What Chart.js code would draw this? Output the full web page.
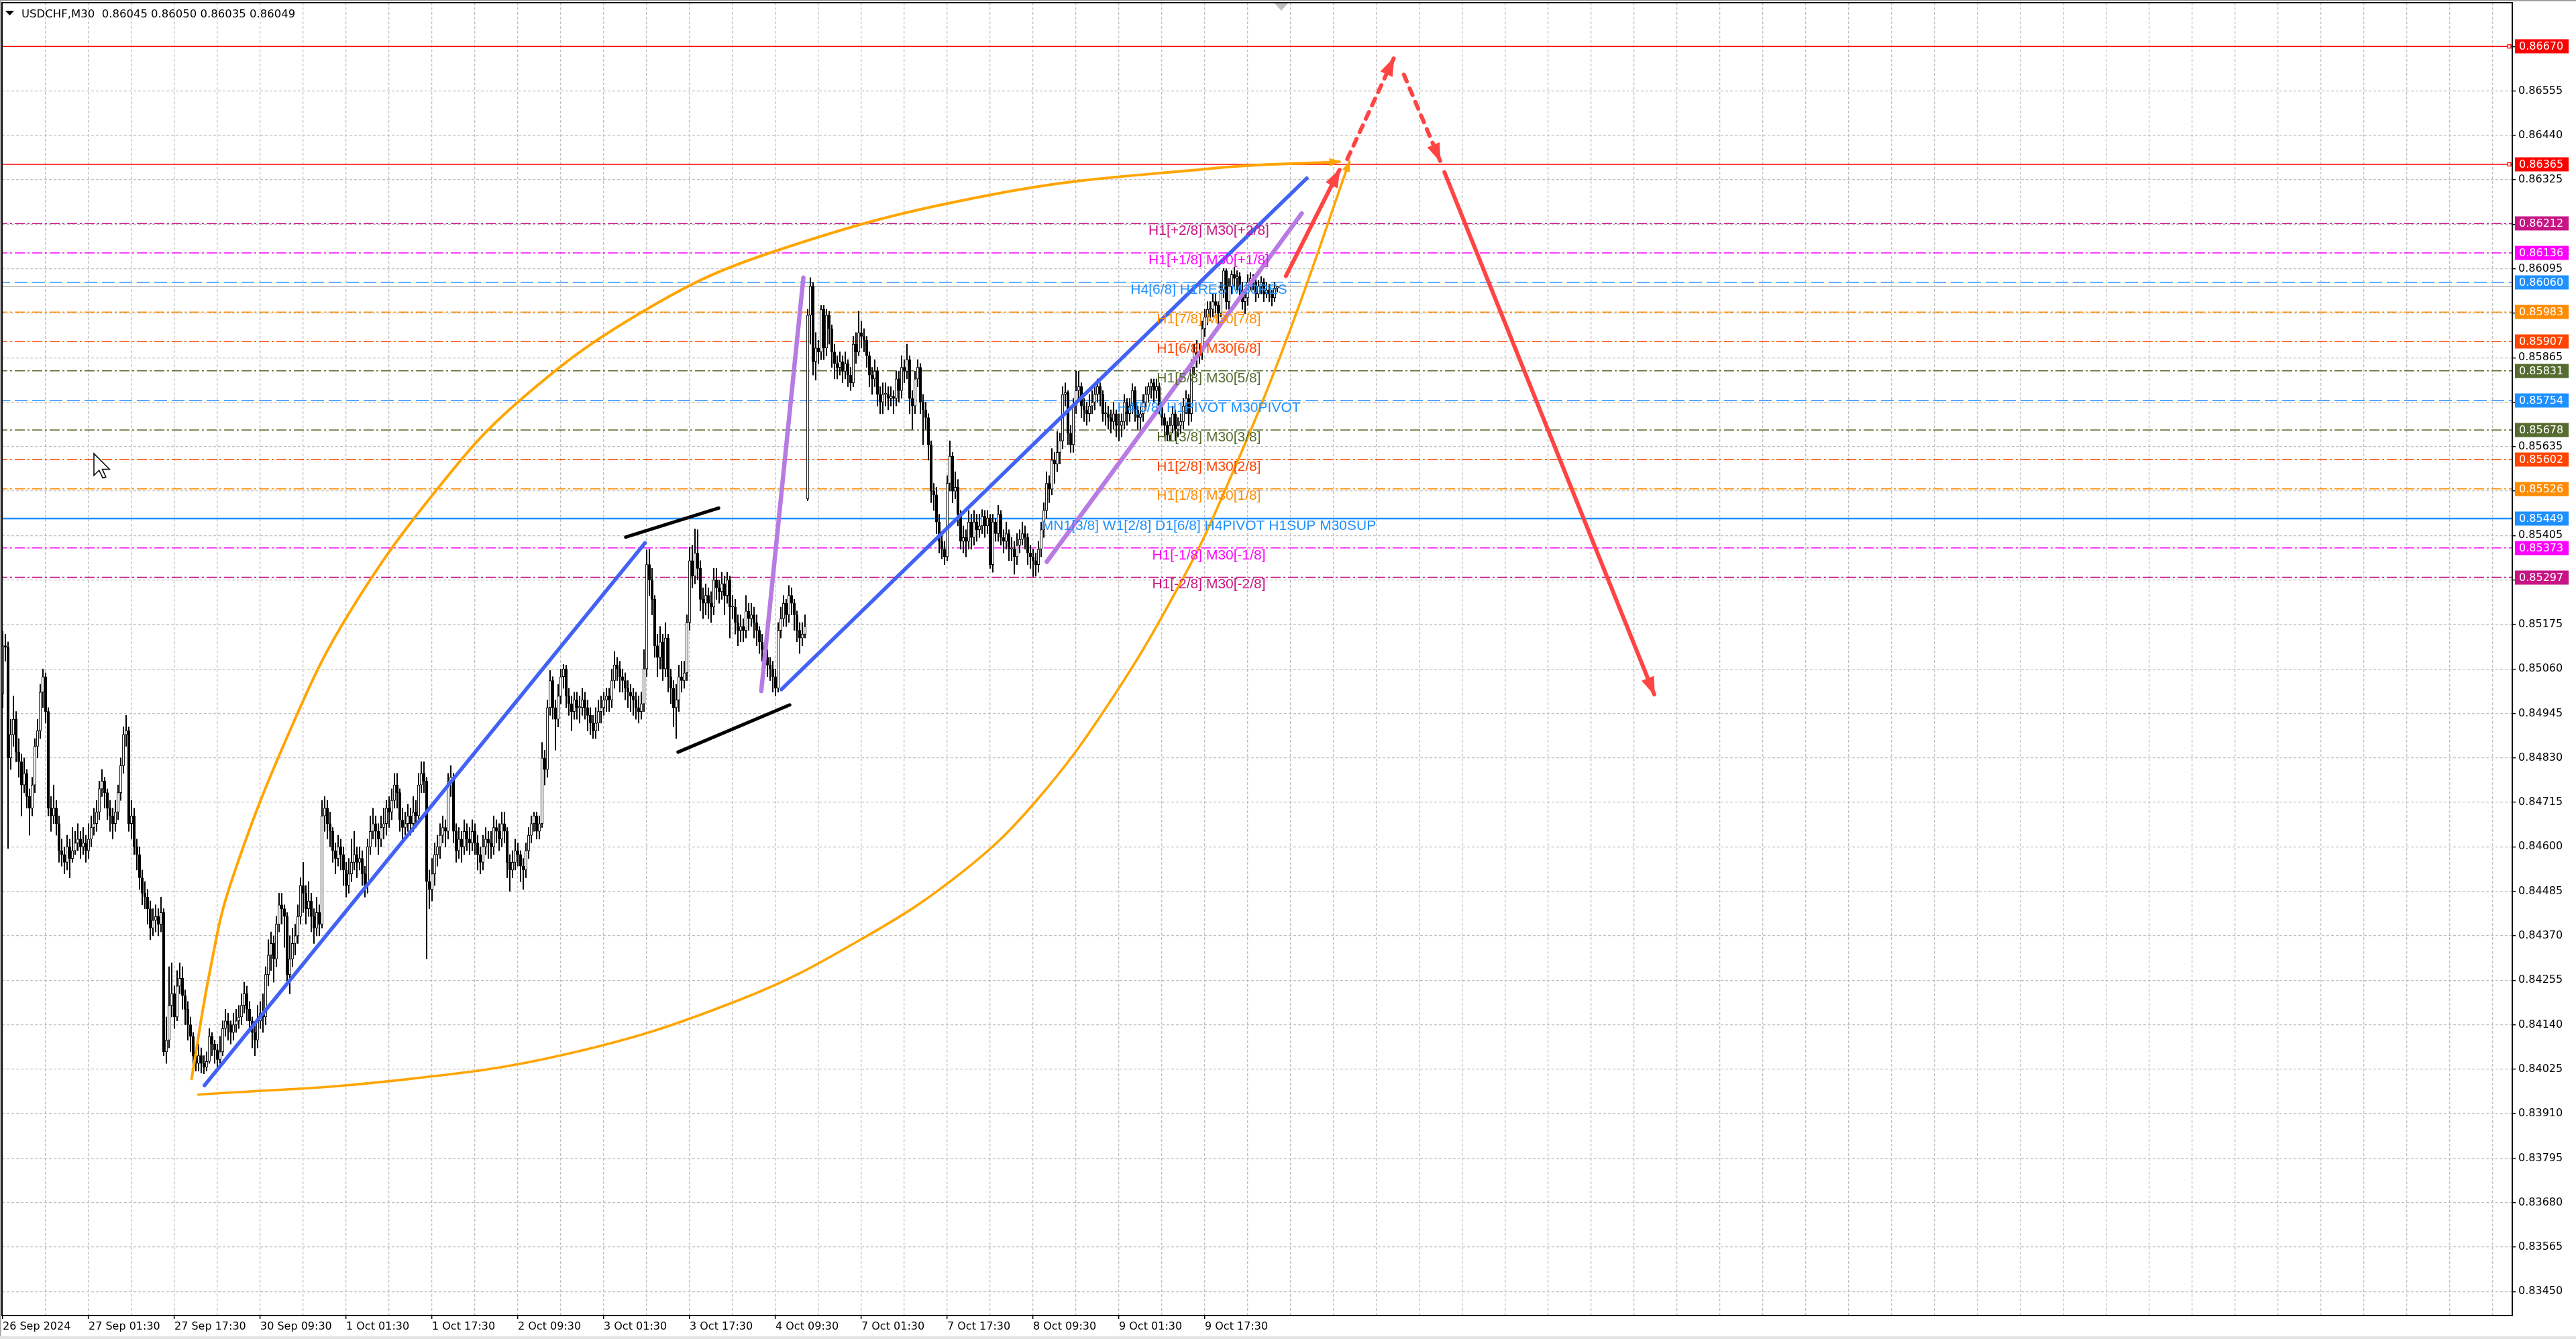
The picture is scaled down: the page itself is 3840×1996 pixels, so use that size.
<!DOCTYPE html>
<html>
<head>
<meta charset="utf-8">
<script src="https://cdn.jsdelivr.net/npm/chart.js@4.4.1/dist/chart.umd.min.js"></script>
<style>
html,body{margin:0;padding:0;background:#fff;width:3840px;height:1996px;overflow:hidden}
canvas{display:block}
</style>
</head>
<body>
<canvas id="c" width="3840" height="1996"></canvas>
<script>
// ---------------- DATA ----------------
const chartTitle = "USDCHF,M30  0.86045 0.86050 0.86035 0.86049";
const timeLabels = ["26 Sep 2024","27 Sep 01:30","27 Sep 17:30","30 Sep 09:30","1 Oct 01:30","1 Oct 17:30","2 Oct 09:30","3 Oct 01:30","3 Oct 17:30","4 Oct 09:30","7 Oct 01:30","7 Oct 17:30","8 Oct 09:30","9 Oct 01:30","9 Oct 17:30"];
const yTickValues = [0.83450,0.83565,0.83680,0.83795,0.83910,0.84025,0.84140,0.84255,0.84370,0.84485,0.84600,0.84715,0.84830,0.84945,0.85060,0.85175,0.85290,0.85405,0.85520,0.85635,0.85750,0.85865,0.85980,0.86095,0.86210,0.86325,0.86440,0.86555,0.86670];
const hiddenTicks = ["0.85290","0.85520","0.85750","0.85980","0.86210","0.86670"];

const opens = [
.84996,.85120,.85116,.84830,.84890,.84930,.84845,.84820,.84760,.84790,
.84730,.84700,.84760,.84860,.84900,.85000,.85040,.84950,.84700,.84680,
.84700,.84660,.84590,.84580,.84560,.84600,.84570,.84590,.84610,.84620,
.84600,.84610,.84590,.84620,.84650,.84660,.84690,.84750,.84770,.84740,
.84700,.84680,.84660,.84690,.84740,.84810,.84890,.84900,.84660,.84680,
.84600,.84580,.84520,.84480,.84470,.84440,.84390,.84410,.84420,.84400,
.84430,.84070,.84100,.84190,.84220,.84160,.84240,.84260,.84215,.84180,
.84140,.84110,.84060,.84040,.84060,.84040,.84030,.84045,.84110,.84090,
.84075,.84050,.84070,.84130,.84150,.84140,.84120,.84140,.84150,.84160,
.84190,.84220,.84180,.84150,.84120,.84100,.84150,.84170,.84160,.84270,
.84320,.84350,.84310,.84400,.84450,.84440,.84420,.84270,.84310,.84350,
.84370,.84420,.84500,.84480,.84440,.84460,.84420,.84390,.84430,.84400,
.84680,.84700,.84660,.84640,.84590,.84570,.84600,.84580,.84540,.84500,
.84530,.84560,.84580,.84560,.84570,.84530,.84500,.84600,.84640,.84660,
.84640,.84620,.84650,.84660,.84700,.84690,.84720,.84760,.84740,.84670,
.84650,.84660,.84680,.84660,.84690,.84680,.84760,.84790,.84770,.84510,
.84490,.84530,.84580,.84600,.84630,.84650,.84640,.84770,.84780,.84640,
.84590,.84620,.84600,.84640,.84620,.84610,.84640,.84610,.84580,.84560,
.84600,.84620,.84610,.84600,.84650,.84640,.84620,.84660,.84640,.84560,
.84540,.84560,.84590,.84580,.84550,.84540,.84590,.84630,.84660,.84680,
.84640,.84660,.84830,.84800,.84960,.85030,.84960,.84930,.84990,.85040,
.85060,.84990,.84970,.84950,.84980,.84960,.84960,.84980,.84960,.84940,
.84920,.84900,.84920,.84950,.84960,.84980,.84990,.84980,.85030,.85070,
.85060,.85040,.85030,.85010,.85000,.84990,.84980,.84960,.84950,.84970,
.85060,.85330,.85290,.85240,.85120,.85090,.85130,.85060,.85140,.85040,
.85010,.84960,.84980,.85040,.85030,.85050,.85180,.85340,.85300,.85360,
.85320,.85240,.85230,.85250,.85230,.85220,.85290,.85270,.85260,.85280,
.85250,.85290,.85220,.85220,.85180,.85160,.85170,.85160,.85210,.85190,
.85200,.85180,.85160,.85130,.85110,.85090,.85070,.85060,.85040,.85010,
.85160,.85190,.85230,.85200,.85250,.85230,.85200,.85160,.85140,.85150,
.85500,.85975,.86050,.85855,.85890,.85880,.85990,.85890,.85975,.85940,
.85880,.85850,.85840,.85855,.85830,.85850,.85820,.85800,.85900,.85880,
.85930,.85920,.85910,.85870,.85820,.85810,.85830,.85770,.85750,.85770,
.85770,.85760,.85765,.85760,.85810,.85780,.85840,.85830,.85860,.85760,
.85740,.85810,.85840,.85750,.85730,.85710,.85640,.85520,.85510,.85440,
.85390,.85370,.85350,.85540,.85610,.85520,.85530,.85460,.85390,.85400,
.85390,.85440,.85400,.85440,.85420,.85430,.85455,.85430,.85450,.85330,
.85440,.85410,.85460,.85400,.85390,.85410,.85370,.85370,.85350,.85380,
.85395,.85410,.85400,.85360,.85350,.85340,.85330,.85370,.85420,.85470,
.85540,.85525,.85600,.85590,.85620,.85650,.85770,.85775,.85670,.85640,
.85740,.85780,.85790,.85740,.85730,.85720,.85740,.85750,.85770,.85790,
.85770,.85720,.85720,.85710,.85700,.85720,.85690,.85690,.85700,.85750,
.85720,.85740,.85780,.85730,.85710,.85720,.85750,.85770,.85790,.85800,
.85780,.85790,.85740,.85710,.85690,.85665,.85690,.85720,.85680,.85690,
.85700,.85740,.85760,.85720,.85840,.85880,.85870,.85880,.85940,.85970,
.85990,.85990,.86010,.86000,.85980,.86040,.86090,.86010,.86050,.86080,
.86070,.86075,.86040,.86010,.86020,.86060,.86070,.86060,.86030,.86050,
.86060,.86030,.86040,.86030,.86020,.86045];

const highs = [
.85158,.85150,.85130,.84930,.84990,.84950,.84880,.84840,.84830,.84800,
.84750,.84780,.84880,.84930,.85020,.85060,.85050,.84960,.84730,.84760,
.84720,.84680,.84620,.84600,.84630,.84620,.84650,.84640,.84660,.84640,
.84650,.84630,.84660,.84680,.84700,.84720,.84770,.84800,.84780,.84750,
.84720,.84700,.84720,.84760,.84830,.84910,.84940,.84910,.84720,.84700,
.84620,.84600,.84540,.84510,.84490,.84460,.84440,.84450,.84440,.84470,
.84440,.84160,.84290,.84300,.84240,.84280,.84300,.84290,.84230,.84200,
.84160,.84120,.84080,.84090,.84080,.84060,.84070,.84130,.84120,.84100,
.84090,.84110,.84150,.84180,.84170,.84150,.84170,.84180,.84190,.84220,
.84250,.84240,.84200,.84160,.84140,.84190,.84200,.84220,.84290,.84360,
.84380,.84370,.84420,.84480,.84480,.84450,.84430,.84370,.84390,.84400,
.84450,.84520,.84560,.84500,.84510,.84480,.84440,.84470,.84450,.84720,
.84730,.84720,.84690,.84650,.84610,.84630,.84620,.84600,.84560,.84570,
.84620,.84640,.84600,.84600,.84590,.84550,.84620,.84680,.84700,.84680,
.84660,.84680,.84700,.84720,.84730,.84750,.84790,.84790,.84750,.84700,
.84690,.84710,.84700,.84730,.84720,.84790,.84820,.84820,.84780,.84540,
.84570,.84610,.84630,.84660,.84680,.84670,.84790,.84810,.84790,.84660,
.84650,.84640,.84670,.84660,.84650,.84670,.84660,.84630,.84600,.84630,
.84650,.84640,.84640,.84680,.84670,.84660,.84690,.84690,.84650,.84580,
.84590,.84620,.84610,.84590,.84570,.84610,.84650,.84680,.84690,.84690,
.84680,.84870,.84850,.84980,.85056,.85040,.84980,.85020,.85060,.85072,
.85070,.85010,.84990,.85000,.85000,.84990,.85010,.85000,.84980,.84960,
.84940,.84960,.84980,.84990,.85000,.85010,.85010,.85060,.85105,.85090,
.85080,.85060,.85050,.85030,.85020,.85010,.85000,.84990,.85000,.85110,
.85368,.85370,.85320,.85250,.85150,.85170,.85150,.85180,.85150,.85060,
.85030,.85020,.85070,.85080,.85080,.85200,.85375,.85380,.85422,.85420,
.85340,.85270,.85280,.85270,.85260,.85320,.85320,.85290,.85310,.85300,
.85310,.85300,.85250,.85240,.85200,.85200,.85190,.85250,.85230,.85230,
.85220,.85200,.85170,.85150,.85130,.85110,.85090,.85080,.85060,.85180,
.85220,.85250,.85240,.85276,.85270,.85240,.85210,.85180,.85180,.85200,
.85990,.86072,.86060,.85930,.85910,.86000,.86000,.85990,.85985,.85950,
.85900,.85870,.85880,.85870,.85880,.85860,.85840,.85920,.85930,.85985,
.85960,.85940,.85920,.85880,.85840,.85860,.85840,.85790,.85800,.85800,
.85790,.85790,.85780,.85830,.85830,.85870,.85860,.85900,.85870,.85780,
.85830,.85860,.85850,.85770,.85750,.85720,.85650,.85540,.85530,.85460,
.85410,.85390,.85560,.85650,.85620,.85570,.85550,.85470,.85430,.85420,
.85470,.85460,.85470,.85460,.85460,.85472,.85470,.85470,.85460,.85460,
.85450,.85483,.85470,.85420,.85440,.85420,.85400,.85390,.85410,.85420,
.85440,.85430,.85410,.85380,.85370,.85360,.85390,.85440,.85490,.85570,
.85560,.85630,.85620,.85674,.85670,.85790,.85800,.85780,.85690,.85760,
.85831,.85830,.85800,.85760,.85750,.85770,.85780,.85790,.85810,.85800,
.85780,.85750,.85740,.85730,.85750,.85730,.85720,.85720,.85770,.85760,
.85760,.85798,.85790,.85740,.85740,.85770,.85790,.85800,.85810,.85810,
.85810,.85800,.85750,.85720,.85700,.85710,.85740,.85730,.85710,.85720,
.85760,.85780,.85770,.85860,.85900,.85910,.85900,.85960,.85990,.86010,
.86010,.86030,.86030,.86010,.86060,.86096,.86095,.86070,.86090,.86099,
.86090,.86085,.86060,.86040,.86080,.86085,.86080,.86070,.86065,.86075,
.86070,.86060,.86055,.86040,.86060,.86050];

const lows = [
.84960,.85080,.84596,.84800,.84860,.84820,.84780,.84680,.84740,.84700,
.84630,.84680,.84740,.84830,.84880,.84960,.84920,.84680,.84640,.84660,
.84630,.84560,.84550,.84530,.84540,.84520,.84560,.84580,.84590,.84570,
.84580,.84560,.84570,.84600,.84630,.84640,.84670,.84730,.84700,.84670,
.84640,.84620,.84640,.84670,.84720,.84790,.84860,.84640,.84620,.84580,
.84540,.84490,.84450,.84440,.84400,.84360,.84370,.84380,.84370,.84380,
.84060,.84040,.84080,.84160,.84130,.84150,.84220,.84180,.84140,.84100,
.84070,.84030,.84020,.84020,.84015,.84013,.84020,.84040,.84060,.84040,
.84030,.84040,.84060,.84110,.84100,.84090,.84100,.84120,.84130,.84140,
.84170,.84150,.84120,.84080,.84060,.84080,.84130,.84120,.84140,.84240,
.84280,.84250,.84290,.84380,.84400,.84340,.84250,.84220,.84290,.84320,
.84350,.84400,.84430,.84400,.84420,.84380,.84350,.84370,.84370,.84390,
.84640,.84620,.84600,.84560,.84530,.84550,.84540,.84500,.84470,.84480,
.84510,.84540,.84520,.84540,.84500,.84470,.84480,.84580,.84620,.84600,
.84580,.84600,.84620,.84630,.84650,.84670,.84700,.84700,.84640,.84620,
.84630,.84640,.84630,.84640,.84650,.84660,.84740,.84740,.84310,.84440,
.84460,.84500,.84550,.84570,.84610,.84600,.84620,.84730,.84610,.84560,
.84570,.84560,.84580,.84590,.84580,.84590,.84580,.84540,.84530,.84540,
.84580,.84570,.84570,.84580,.84610,.84590,.84600,.84610,.84520,.84485,
.84520,.84540,.84550,.84510,.84490,.84520,.84570,.84610,.84640,.84620,
.84620,.84650,.84760,.84780,.84940,.84930,.84850,.84910,.84970,.85010,
.84960,.84940,.84900,.84930,.84930,.84920,.84940,.84930,.84900,.84890,
.84880,.84880,.84900,.84920,.84940,.84950,.84950,.84960,.85010,.85030,
.85000,.85000,.84980,.84960,.84950,.84940,.84930,.84920,.84930,.84950,
.85040,.85250,.85200,.85090,.85040,.85060,.85030,.85040,.85000,.84970,
.84910,.84880,.84950,.85000,.85010,.85030,.85160,.85270,.85280,.85290,
.85210,.85190,.85200,.85190,.85180,.85200,.85240,.85230,.85240,.85200,
.85230,.85140,.85190,.85150,.85120,.85130,.85130,.85140,.85160,.85170,
.85140,.85120,.85100,.85080,.85060,.85040,.85030,.85000,.84990,.85000,
.85140,.85170,.85170,.85180,.85200,.85160,.85130,.85100,.85120,.85140,
.85495,.85900,.85820,.85807,.85850,.85860,.85860,.85870,.85900,.85840,
.85810,.85810,.85820,.85800,.85810,.85790,.85780,.85790,.85850,.85870,
.85890,.85880,.85840,.85790,.85770,.85790,.85740,.85720,.85720,.85740,
.85730,.85740,.85720,.85740,.85750,.85760,.85800,.85810,.85720,.85680,
.85720,.85790,.85720,.85640,.85680,.85600,.85490,.85470,.85410,.85360,
.85345,.85330,.85340,.85520,.85490,.85500,.85430,.85370,.85360,.85350,
.85370,.85370,.85380,.85390,.85400,.85410,.85400,.85410,.85320,.85310,
.85390,.85390,.85380,.85360,.85370,.85340,.85340,.85305,.85330,.85360,
.85380,.85370,.85330,.85320,.85299,.85300,.85310,.85350,.85400,.85450,
.85490,.85510,.85540,.85570,.85590,.85630,.85740,.85640,.85620,.85620,
.85720,.85750,.85710,.85700,.85690,.85700,.85720,.85730,.85750,.85740,
.85700,.85690,.85680,.85670,.85680,.85660,.85650,.85660,.85680,.85690,
.85700,.85720,.85700,.85680,.85680,.85700,.85730,.85750,.85760,.85750,
.85760,.85720,.85690,.85660,.85650,.85650,.85670,.85650,.85660,.85670,
.85680,.85720,.85690,.85700,.85820,.85840,.85850,.85860,.85920,.85950,
.85960,.85970,.85980,.85950,.85970,.86020,.85990,.85990,.86030,.86050,
.86040,.86020,.85990,.85979,.86000,.86040,.86040,.86010,.86020,.86030,
.86010,.86020,.86010,.85999,.86010,.86035];

const closes = [
.85120,.85116,.84830,.84890,.84930,.84845,.84820,.84760,.84790,.84730,
.84700,.84760,.84860,.84900,.85000,.85040,.84950,.84700,.84680,.84700,
.84660,.84590,.84580,.84560,.84600,.84570,.84590,.84610,.84620,.84600,
.84610,.84590,.84620,.84650,.84660,.84690,.84750,.84770,.84740,.84700,
.84680,.84660,.84690,.84740,.84810,.84890,.84900,.84660,.84680,.84600,
.84580,.84520,.84480,.84470,.84440,.84390,.84410,.84420,.84400,.84430,
.84070,.84100,.84190,.84220,.84160,.84240,.84260,.84215,.84180,.84140,
.84110,.84060,.84040,.84060,.84040,.84030,.84045,.84110,.84090,.84075,
.84050,.84070,.84130,.84150,.84140,.84120,.84140,.84150,.84160,.84190,
.84220,.84180,.84150,.84120,.84100,.84150,.84170,.84160,.84270,.84320,
.84350,.84310,.84400,.84450,.84440,.84420,.84270,.84310,.84350,.84370,
.84420,.84500,.84480,.84440,.84460,.84420,.84390,.84430,.84400,.84680,
.84700,.84660,.84640,.84590,.84570,.84600,.84580,.84540,.84500,.84530,
.84560,.84580,.84560,.84570,.84530,.84500,.84600,.84640,.84660,.84640,
.84620,.84650,.84660,.84700,.84690,.84720,.84760,.84740,.84670,.84650,
.84660,.84680,.84660,.84690,.84680,.84760,.84790,.84770,.84510,.84490,
.84530,.84580,.84600,.84630,.84650,.84640,.84770,.84780,.84640,.84590,
.84620,.84600,.84640,.84620,.84610,.84640,.84610,.84580,.84560,.84600,
.84620,.84610,.84600,.84650,.84640,.84620,.84660,.84640,.84560,.84540,
.84560,.84590,.84580,.84550,.84540,.84590,.84630,.84660,.84680,.84640,
.84660,.84830,.84800,.84960,.85030,.84960,.84930,.84990,.85040,.85060,
.84990,.84970,.84950,.84980,.84960,.84960,.84980,.84960,.84940,.84920,
.84900,.84920,.84950,.84960,.84980,.84990,.84980,.85030,.85070,.85060,
.85040,.85030,.85010,.85000,.84990,.84980,.84960,.84950,.84970,.85060,
.85330,.85290,.85240,.85120,.85090,.85130,.85060,.85140,.85040,.85010,
.84960,.84980,.85040,.85030,.85050,.85180,.85340,.85300,.85360,.85320,
.85240,.85230,.85250,.85230,.85220,.85290,.85270,.85260,.85280,.85250,
.85290,.85220,.85220,.85180,.85160,.85170,.85160,.85210,.85190,.85200,
.85180,.85160,.85130,.85110,.85090,.85070,.85060,.85040,.85010,.85160,
.85190,.85230,.85200,.85250,.85230,.85200,.85160,.85140,.85150,.85170,
.85975,.86050,.85855,.85890,.85880,.85990,.85890,.85975,.85940,.85880,
.85850,.85840,.85855,.85830,.85850,.85820,.85800,.85900,.85880,.85930,
.85920,.85910,.85870,.85820,.85810,.85830,.85770,.85750,.85770,.85770,
.85760,.85765,.85760,.85810,.85780,.85840,.85830,.85860,.85760,.85740,
.85810,.85840,.85750,.85730,.85710,.85640,.85520,.85510,.85440,.85390,
.85370,.85350,.85540,.85610,.85520,.85530,.85460,.85390,.85400,.85390,
.85440,.85400,.85440,.85420,.85430,.85455,.85430,.85450,.85330,.85440,
.85410,.85460,.85400,.85390,.85410,.85370,.85370,.85350,.85380,.85395,
.85410,.85400,.85360,.85350,.85340,.85330,.85370,.85420,.85470,.85540,
.85525,.85600,.85590,.85620,.85650,.85770,.85775,.85670,.85640,.85740,
.85780,.85790,.85740,.85730,.85720,.85740,.85750,.85770,.85790,.85770,
.85720,.85720,.85710,.85700,.85720,.85690,.85690,.85700,.85750,.85720,
.85740,.85780,.85730,.85710,.85720,.85750,.85770,.85790,.85800,.85780,
.85790,.85740,.85710,.85690,.85665,.85690,.85720,.85680,.85690,.85700,
.85740,.85760,.85720,.85840,.85880,.85870,.85880,.85940,.85970,.85990,
.85990,.86010,.86000,.85980,.86040,.86090,.86010,.86050,.86080,.86070,
.86075,.86040,.86010,.86020,.86060,.86070,.86060,.86030,.86050,.86060,
.86030,.86040,.86030,.86020,.86045,.86049];

const bidPrice = 0.86049;

// horizontal levels
const levelPrices = [0.86670,0.86365,0.86212,0.86136,0.86060,0.85983,0.85907,0.85831,0.85754,0.85678,0.85602,0.85526,0.85449,0.85373,0.85297];
const levelColors = ['#FF0000','#FF0000','#C71585','#FF00FF','#1E90FF','#FF8C00','#FF4500','#556B2F','#1E90FF','#556B2F','#FF4500','#FF8C00','#1E90FF','#FF00FF','#C71585'];
const levelStyles = ['solid','solid','dashdot','dashdot','dash','dashdot','dashdot','dashdot','dash','dashdot','dashdot','dashdot','solidthick','dashdot','dashdot'];
const levelTexts = ['','','H1[+2/8] M30[+2/8]','H1[+1/8] M30[+1/8]','H4[6/8] H1RES M30RES','H1[7/8] M30[7/8]','H1[6/8] M30[6/8]','H1[5/8] M30[5/8]','H4[5/8] H1PIVOT M30PIVOT','H1[3/8] M30[3/8]','H1[2/8] M30[2/8]','H1[1/8] M30[1/8]','MN1[3/8] W1[2/8] D1[6/8] H4PIVOT H1SUP M30SUP','H1[-1/8] M30[-1/8]','H1[-2/8] M30[-2/8]'];
const levelTextBar = 449.5;

// drawn objects: [bar index, price]
const blueLine1   = [[75.2,0.83983],[239.4,0.85386]];
const blueLine2   = [[290.2,0.85007],[486.0,0.86329]];
const blackLine1  = [[232.2,0.85401],[266.8,0.85476]];
const blackLine2  = [[251.7,0.84845],[293.3,0.84967]];
const purpleLine1 = [[282.7,0.85003],[298.4,0.86072]];
const purpleLine2 = [[389.1,0.85337],[484.1,0.86238]];
const orangeUpper = [[70.4,0.84000],[77.1,0.84274],[85,0.84506],[108.4,0.84922],[129.6,0.85210],[162.5,0.85530],[192.6,0.85754],[238.2,0.85983],[285.9,0.86136],[368.8,0.86287],[451.7,0.86355],[498.2,0.86372]];
const orangeLower = [[72.9,0.83959],[144.1,0.83994],[210.7,0.84065],[274.9,0.84205],[320.7,0.84364],[357.3,0.84533],[384.8,0.84716],[413.5,0.84984],[440.3,0.85300],[455.4,0.85520],[477.7,0.85898],[501.9,0.86372]];
const redSolid1 = [[478.2,0.86076],[498.2,0.86351]];
const redDash1  = [[501.1,0.86379],[518.4,0.86639]];
const redDash2  = [[522.2,0.86597],[535.7,0.86374]];
const redSolid2 = [[537.3,0.86345],[615.5,0.84994]];

// ---------------- CHART ----------------
const FONT_AXIS = 'DejaVu Sans';
const toXY = arr => arr.map(p => ({x: p[0], y: p[1]}));
const idx = closes.map((_, i) => i);

const datasets = [];
levelPrices.forEach((p, k) => {
  const st = levelStyles[k];
  datasets.push({
    type: 'line', order: 50,
    data: [{x: -2, y: p}, {x: 940, y: p}],
    borderColor: levelColors[k],
    borderWidth: st === 'solidthick' ? 2.6 : 1.6,
    borderDash: st === 'dash' ? [19, 7] : (st === 'dashdot' ? [15, 4, 3, 4] : []),
    pointRadius: 0, fill: false, tension: 0
  });
});
datasets.push({type: 'line', order: 49, data: [{x: -2, y: bidPrice}, {x: 940, y: bidPrice}], borderColor: '#C0C0C0', borderWidth: 1.6, pointRadius: 0, fill: false});

datasets.push({
  type: 'bar', order: 40, grouped: false,
  data: idx.map(i => ({x: i, y: [lows[i], highs[i]]})),
  backgroundColor: '#000', borderWidth: 0, barThickness: 1.4, minBarLength: 1
});
datasets.push({
  type: 'bar', order: 39, grouped: false,
  data: idx.map(i => ({x: i, y: [Math.min(opens[i], closes[i]), Math.max(opens[i], closes[i])]})),
  backgroundColor: ctx => closes[ctx.dataIndex] >= opens[ctx.dataIndex] ? '#FFFFFF' : '#000000',
  borderColor: '#000', borderWidth: 1, borderSkipped: false, barThickness: 3.6, minBarLength: 1.5
});

function lineDs(arr, color, width, opts) {
  return Object.assign({
    type: 'line', order: 10, data: toXY(arr), borderColor: color, borderWidth: width,
    pointRadius: 0, fill: false, tension: 0, borderCapStyle: 'round', borderJoinStyle: 'round'
  }, opts || {});
}
datasets.push(lineDs(orangeUpper, '#FFA500', 4, {tension: 0.4, arrowHead: {len: 15, half: 6}}));
datasets.push(lineDs(orangeLower, '#FFA500', 3.6, {tension: 0.4, arrowHead: {len: 15, half: 6}}));
datasets.push(lineDs(blueLine1, '#4262F5', 5.5));
datasets.push(lineDs(blueLine2, '#4262F5', 5.5));
datasets.push(lineDs(blackLine1, '#000000', 5));
datasets.push(lineDs(blackLine2, '#000000', 5));
datasets.push(lineDs(purpleLine1, '#B77BE3', 6.5));
datasets.push(lineDs(purpleLine2, '#B77BE3', 6.5));
datasets.push(lineDs(redSolid1, '#FF4444', 6, {order: 5, arrowHead: {len: 26, half: 10}}));
datasets.push(lineDs(redDash1, '#FF4444', 6, {order: 5, borderDash: [11, 11], arrowHead: {len: 26, half: 10}}));
datasets.push(lineDs(redDash2, '#FF4444', 6, {order: 5, borderDash: [11, 11], arrowHead: {len: 26, half: 10}}));
datasets.push(lineDs(redSolid2, '#FF4444', 6, {order: 5, arrowHead: {len: 26, half: 10}}));

const xTickValues = [];
for (let v = 0; v <= 928; v += 16) xTickValues.push(v);

const decor = {
  id: 'decor',
  beforeDraw(chart) {
    const c = chart.ctx;
    c.save(); c.fillStyle = '#FFFFFF'; c.fillRect(0, 0, chart.width, chart.height); c.restore();
  },
  afterDatasetsDraw(chart) {
    const c = chart.ctx, xs = chart.scales.x, ys = chart.scales.y, ca = chart.chartArea;
    c.save();
    c.beginPath(); c.rect(ca.left, ca.top, ca.right - ca.left, ca.bottom - ca.top); c.clip();
    // arrow heads
    chart.data.datasets.forEach((ds, di) => {
      if (!ds.arrowHead) return;
      const pts = chart.getDatasetMeta(di).data;
      const p = pts[pts.length - 1], q = pts[pts.length - 2];
      let qx = q.x, qy = q.y;
      if (p.cp1x !== undefined && Math.hypot(p.x - p.cp1x, p.y - p.cp1y) > 0.5) { qx = p.cp1x; qy = p.cp1y; }
      const dx = p.x - qx, dy = p.y - qy, L = Math.hypot(dx, dy) || 1;
      const ux = dx / L, uy = dy / L, len = ds.arrowHead.len, half = ds.arrowHead.half;
      const bx = p.x - ux * len, by = p.y - uy * len;
      c.fillStyle = ds.borderColor;
      c.beginPath();
      c.moveTo(p.x + ux * 2, p.y + uy * 2);
      c.lineTo(bx - uy * half, by + ux * half);
      c.lineTo(bx + uy * half, by - ux * half);
      c.closePath(); c.fill();
    });
    // level texts
    c.font = '21px "Liberation Sans", Arial, sans-serif';
    c.textAlign = 'center'; c.textBaseline = 'top';
    levelPrices.forEach((p, k) => {
      if (!levelTexts[k]) return;
      c.fillStyle = levelColors[k];
      c.fillText(levelTexts[k], xs.getPixelForValue(levelTextBar), ys.getPixelForValue(p) + 0.5);
    });
    // chart shift marker
    const sx = xs.getPixelForValue(476.5);
    c.fillStyle = '#C0C0C0';
    c.beginPath(); c.moveTo(sx - 10, ca.top + 1); c.lineTo(sx + 10, ca.top + 1); c.lineTo(sx, ca.top + 12); c.closePath(); c.fill();
    // mouse cursor
    const cx = xs.getPixelForValue(34), cy = ys.getPixelForValue(0.85617), s = 1.55;
    const cur = [[0,0],[0,21],[5,16],[8.5,23.5],[11.5,22.5],[8,15],[15,15]];
    c.beginPath();
    cur.forEach((pt, j) => { const X = cx + pt[0] * s, Y = cy + pt[1] * s; if (j) c.lineTo(X, Y); else c.moveTo(X, Y); });
    c.closePath(); c.fillStyle = '#FFFFFF'; c.fill(); c.strokeStyle = '#000'; c.lineWidth = 1.5; c.stroke();
    c.restore();
  },
  afterDraw(chart) {
    const c = chart.ctx, ys = chart.scales.y, ca = chart.chartArea;
    c.save();
    // outer window edges
    c.fillStyle = '#A0A0A0'; c.fillRect(0, 0, chart.width, 2); c.fillRect(0, 0, 1.5, chart.height);
    c.fillStyle = '#E3E3E3'; c.fillRect(0, chart.height - 4, chart.width, 4);
    // frame
    c.strokeStyle = '#000'; c.lineWidth = 2;
    c.strokeRect(ca.left, ca.top, ca.right - ca.left, ca.bottom - ca.top);
    // small squares at the end of the red lines
    levelPrices.forEach((p, k) => {
      if (levelStyles[k] !== 'solid') return;
      const y = ys.getPixelForValue(p);
      c.fillStyle = '#FFF'; c.fillRect(ca.right - 7, y - 2.5, 5, 5);
      c.strokeStyle = levelColors[k]; c.lineWidth = 1.3; c.strokeRect(ca.right - 7, y - 2.5, 5, 5);
    });
    // price boxes on the axis
    c.font = '16px "' + FONT_AXIS + '"';
    c.textAlign = 'left'; c.textBaseline = 'middle';
    levelPrices.forEach((p, k) => {
      const y = Math.round(ys.getPixelForValue(p));
      c.fillStyle = levelColors[k];
      c.fillRect(ca.right + 4, y - 10.5, 80, 21);
      c.fillStyle = '#FFFFFF';
      c.fillText(p.toFixed(5), ca.right + 10, y + 1);
    });
    // title
    c.fillStyle = '#000';
    c.beginPath(); c.moveTo(8, 16); c.lineTo(21, 16); c.lineTo(14.5, 23); c.closePath(); c.fill();
    c.textBaseline = 'alphabetic';
    c.font = '16.5px "' + FONT_AXIS + '"';
    c.fillText(chartTitle, 32, 26);
    c.restore();
  }
};

new Chart(document.getElementById('c'), {
  type: 'bar',
  data: {datasets},
  options: {
    responsive: false, devicePixelRatio: 1, animation: false, events: [],
    layout: {padding: {left: 3, top: 4, right: 0, bottom: 0}},
    plugins: {legend: {display: false}, tooltip: {enabled: false}, title: {display: false}},
    scales: {
      x: {
        type: 'linear', min: -0.25, max: 935.25, offset: false,
        grid: {color: '#C0C0C0', lineWidth: 1.3, offset: false, drawTicks: true, tickLength: 5, tickWidth: 1.5, tickBorderDash: [],
               tickColor: ctx => (ctx.tick && ctx.tick.value % 32 === 0 && ctx.tick.value / 32 < timeLabels.length) ? '#000' : 'rgba(0,0,0,0)'},
        border: {display: false, dash: [4, 3]},
        ticks: {autoSkip: false, maxRotation: 0, minRotation: 0, align: 'start', padding: 2, color: '#000',
                font: {family: FONT_AXIS, size: 16},
                callback: v => (v % 32 === 0 && v / 32 < timeLabels.length) ? timeLabels[v / 32] : ''},
        afterBuildTicks: s => { s.ticks = xTickValues.map(v => ({value: v})); },
        afterFit: s => { s.height = 35; s.paddingLeft = 0; s.paddingRight = 0; }
      },
      y: {
        type: 'linear', position: 'right', min: 0.833879, max: 0.867831,
        grid: {color: '#C0C0C0', lineWidth: 1.3, drawTicks: true, tickLength: 5, tickWidth: 1.5, tickColor: '#000', tickBorderDash: []},
        border: {display: false, dash: [4, 3]},
        ticks: {autoSkip: false, padding: 4, color: '#000', font: {family: FONT_AXIS, size: 16},
                callback: v => hiddenTicks.includes(Number(v).toFixed(5)) ? '' : Number(v).toFixed(5)},
        afterBuildTicks: s => { s.ticks = yTickValues.map(v => ({value: v})); },
        afterFit: s => { s.width = 95; s.paddingTop = 0; s.paddingBottom = 0; }
      }
    }
  },
  plugins: [decor]
});
</script>
</body>
</html>
